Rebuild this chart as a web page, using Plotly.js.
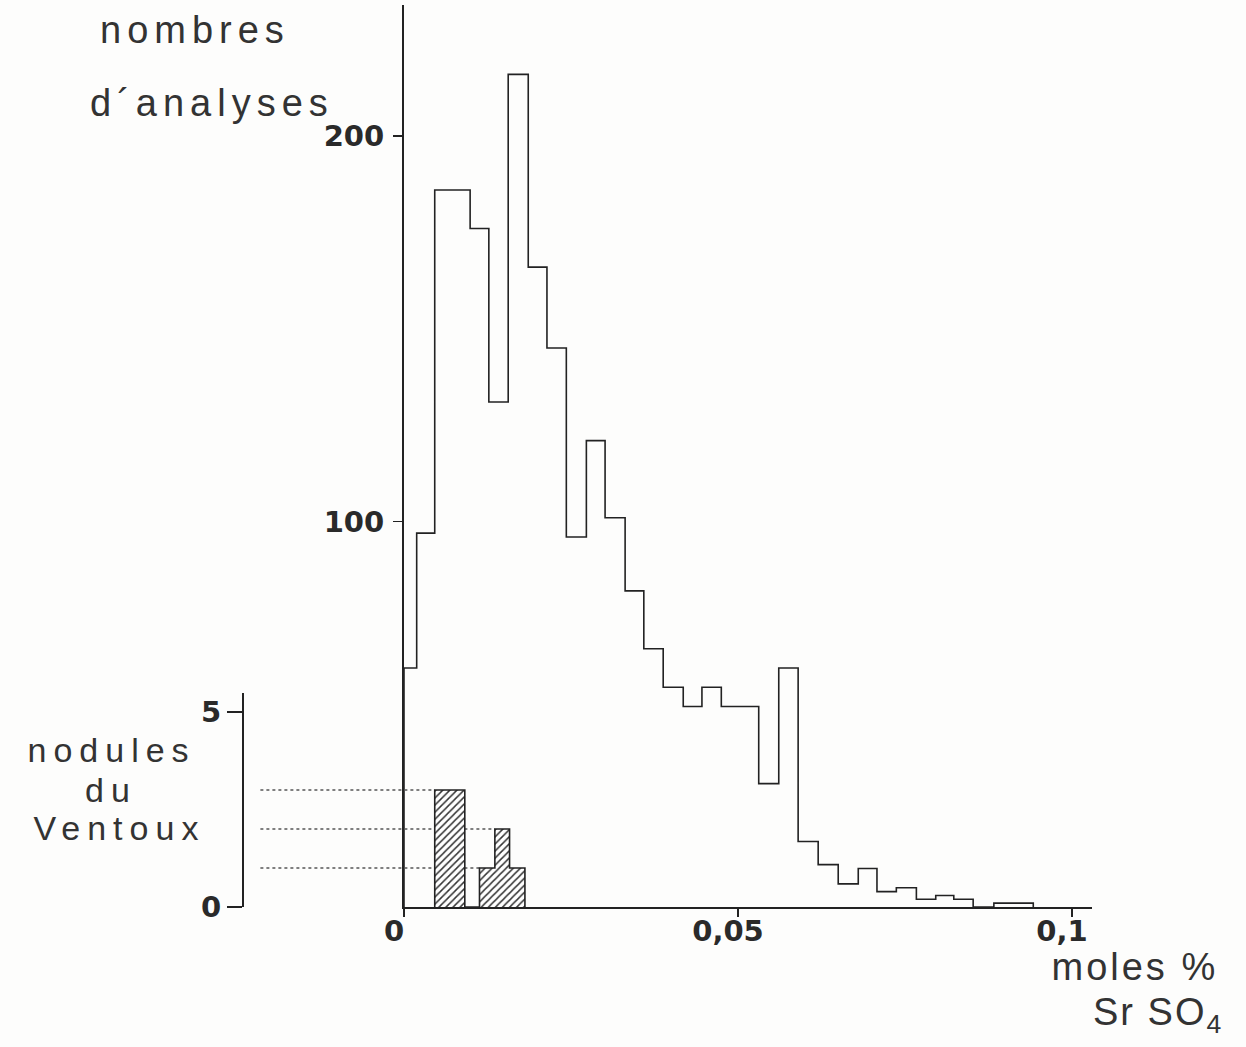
<!DOCTYPE html>
<html><head><meta charset="utf-8">
<script src="https://cdn.plot.ly/plotly-3.0.1.min.js"></script>
<style>
html,body{margin:0;padding:0;background:#fdfdfc;}
#chart{width:1246px;height:1047px;}
.annotation-text{letter-spacing:6px;}
g.annotation[data-index="2"] .annotation-text,
g.annotation[data-index="3"] .annotation-text,
g.annotation[data-index="4"] .annotation-text{letter-spacing:7px;}
g.annotation[data-index="5"] .annotation-text{letter-spacing:3px;}
g.annotation[data-index="6"] .annotation-text{letter-spacing:2px;}
</style></head><body><div id="chart"></div>
<script>
// Main histogram: bin edges (moles % SrSO4) and number of analyses per bin
const binEdges = [0, 0.0019, 0.0046, 0.0072, 0.0099, 0.0127, 0.0156, 0.0186, 0.0214, 0.0243,
  0.0273, 0.0301, 0.0331, 0.0359, 0.0388, 0.0418, 0.0446, 0.0475, 0.0503, 0.0531,
  0.0561, 0.0590, 0.0620, 0.0650, 0.0680, 0.0708, 0.0737, 0.0767, 0.0796, 0.0823,
  0.0852, 0.0883, 0.0912, 0.0942];
const analysisCounts = [62, 97, 186, 186, 176, 131, 216, 166, 145, 96,
  121, 101, 82, 67, 57, 52, 57, 52, 52, 32,
  62, 17, 11, 6, 10, 4, 5, 2, 3, 2,
  0, 1, 1];

// Nodules du Ventoux (second histogram, own scale 0-5)
const noduleEdges = [0.0046, 0.0068, 0.0091, 0.0113, 0.0136, 0.0158, 0.0181];
const noduleCounts = [3, 3, 0, 1, 2, 1];
const noduleLevels = [3, 2, 1];

// Tick values
const xTicks = [0, 0.05, 0.1];
const yTicks = [100, 200];
const noduleTicks = [0, 5];

function stepXY(edges, counts) {
  const x = [edges[0]], y = [0];
  counts.forEach((c, i) => { x.push(edges[i]); y.push(c); });
  x.push(edges[edges.length - 1]); y.push(0);
  return {x, y};
}

const INK = '#222';
const dotStart = -0.0215;

const main = stepXY(binEdges, analysisCounts);
const nod = stepXY(noduleEdges, noduleCounts);

const traces = [];
// dotted guide lines from the nodule axis to each bar level
noduleLevels.forEach(lv => {
  const idx = noduleCounts.indexOf(lv);
  traces.push({
    type: 'scatter', mode: 'lines', xaxis: 'x2', yaxis: 'y2',
    x: [dotStart, noduleEdges[idx]], y: [lv, lv],
    line: {color: '#555', width: 1.3, dash: 'dot'}, hoverinfo: 'skip'
  });
});
// hatched nodule histogram
traces.push({
  type: 'scatter', mode: 'lines', xaxis: 'x2', yaxis: 'y2',
  x: nod.x, y: nod.y,
  line: {shape: 'hv', color: INK, width: 1.6},
  fill: 'tozeroy', fillcolor: '#ffffff',
  fillpattern: {shape: '/', size: 5, solidity: 0.3, fgcolor: '#333', bgcolor: '#ffffff'}
});
// main histogram outline
traces.push({
  type: 'scatter', mode: 'lines', xaxis: 'x', yaxis: 'y',
  x: main.x, y: main.y,
  line: {shape: 'hv', color: INK, width: 1.6}
});

const tickFont = {family: 'DejaVu Sans, sans-serif', size: 29, weight: 'bold', color: '#2a2a2a'};
const lblFont = {family: 'Liberation Sans, Arial, sans-serif', size: 38, color: '#333'};
const smallFont = {family: 'Liberation Sans, Arial, sans-serif', size: 34, color: '#333'};

function ann(text, x, y, xanchor, font) {
  return {text, x, y, xref: 'paper', yref: 'paper', xanchor: xanchor || 'center',
    yanchor: 'middle', showarrow: false, font: font || lblFont, align: 'center', borderpad: 0};
}

const layout = {
  width: 1246, height: 1047,
  margin: {l: 243, r: 154, t: 5, b: 140, pad: 0},
  paper_bgcolor: '#fdfdfc', plot_bgcolor: 'rgba(0,0,0,0)',
  separators: ', ',
  showlegend: false,
  font: {family: 'Liberation Sans, Arial, sans-serif', color: '#2a2a2a'},
  xaxis: {domain: [0.18963, 1], range: [0, 0.10299], anchor: 'y',
    showline: true, linecolor: INK, linewidth: 2,
    ticks: 'outside', ticklen: 8, tickwidth: 1.5, tickcolor: INK,
    tickvals: xTicks, tickfont: tickFont, ticklabelshift: -10, ticklabelstandoff: -11,
    showgrid: false, zeroline: false, automargin: false, fixedrange: true},
  yaxis: {domain: [0, 1], range: [0, 234], anchor: 'x',
    showline: true, linecolor: INK, linewidth: 2,
    ticks: 'outside', ticklen: 9, tickwidth: 1.5, tickcolor: INK,
    tickvals: yTicks, tickfont: tickFont, ticklabelstandoff: 3,
    showgrid: false, zeroline: false, automargin: false, fixedrange: true},
  xaxis2: {domain: [0, 1], range: [-0.024102, 0.10299], anchor: 'y2', visible: false,
    fixedrange: true},
  yaxis2: {domain: [0, 0.2373], range: [0, 5.487], anchor: 'free', position: 0,
    showline: true, linecolor: INK, linewidth: 2,
    ticks: 'outside', ticklen: 15, tickwidth: 1.8, tickcolor: INK,
    tickvals: noduleTicks, tickfont: tickFont,
    showgrid: false, zeroline: false, automargin: false, fixedrange: true},
  annotations: [
    ann('nombres', -0.0560, 0.9723),
    ann('d´analyses', -0.0370, 0.8914),
    ann('nodules', -0.1550, 0.1741, 'center', smallFont),
    ann('du', -0.1560, 0.1297, 'center', smallFont),
    ann('Ventoux', -0.1460, 0.0875, 'center', smallFont),
    ann('moles %', 1.1625, -0.0665, 'right'),
    ann('Sr SO<sub>4</sub>', 1.1700, -0.1197, 'right')
  ]
};

Plotly.newPlot('chart', traces, layout, {staticPlot: true, displayModeBar: false});
</script></body></html>
